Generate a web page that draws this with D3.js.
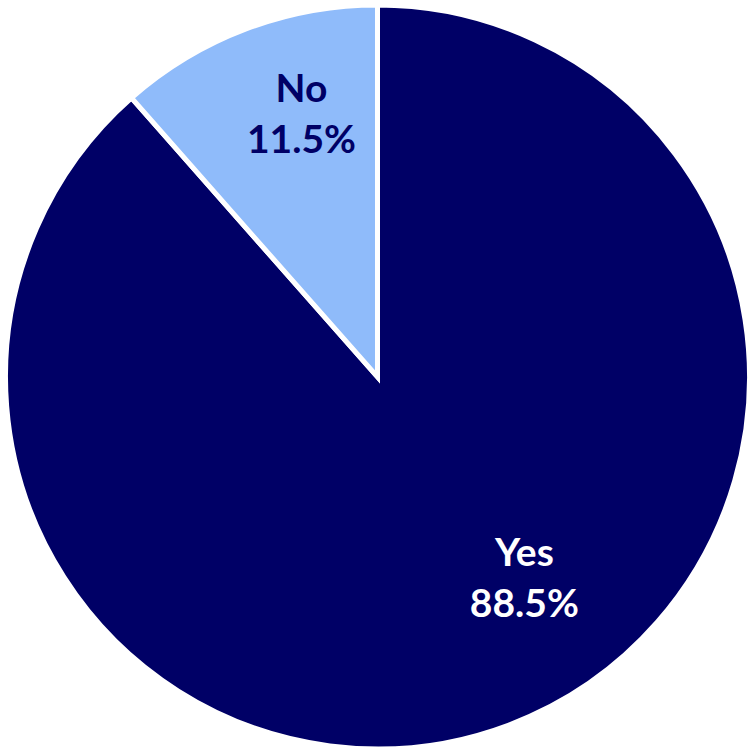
<!DOCTYPE html>
<html><head><meta charset="utf-8">
<script src="https://cdn.jsdelivr.net/npm/d3@7"></script>
<style>html,body{margin:0;padding:0;background:#fff}</style>
</head><body>
<svg id="c" width="755" height="755"></svg>
<script>
const categories = ["Yes", "No"];
const values = [88.5, 11.5];
const colors = ["#000066", "#8FBBFA"];
const labelColors = ["#FFFFFF", "#000066"];

const W = 755, H = 755;
const cx = 377.5, cy = 377, R = 372;
const svg = d3.select("#c");
const g = svg.append("g").attr("transform", `translate(${cx},${cy})`);

const data = categories.map((c, i) => ({cat: c, value: values[i], color: colors[i], lc: labelColors[i]}));
const pie = d3.pie().sort(null).value(d => d.value);
const arcs = pie(data);
const arc = d3.arc().innerRadius(0).outerRadius(R);

g.selectAll("path").data(arcs).join("path")
  .attr("d", arc)
  .attr("fill", d => d.data.color)
  .attr("stroke", "#fff")
  .attr("stroke-width", 5)
  .attr("stroke-linejoin", "miter");

// label placement (Excel best-fit style)
const labelAngleShift = [-0.238, 0.065];
const labelR = 0.70 * R;
arcs.forEach((a, i) => {
  const ang = (a.startAngle + a.endAngle) / 2 + labelAngleShift[i];
  const x = labelR * Math.sin(ang), y = -labelR * Math.cos(ang);
  const t = g.append("text")
    .attr("text-anchor", "middle")
    .attr("font-family", "Lato, 'Open Sans', sans-serif")
    .attr("font-weight", "bold")
    .attr("font-size", 39)
    .attr("fill", a.data.lc);
  t.append("tspan").attr("x", x).attr("y", y - 26).text(a.data.cat);
  t.append("tspan").attr("x", x).attr("y", y + 25).text(d3.format(".1f")(a.data.value) + "%");
});
</script>
</body></html>
